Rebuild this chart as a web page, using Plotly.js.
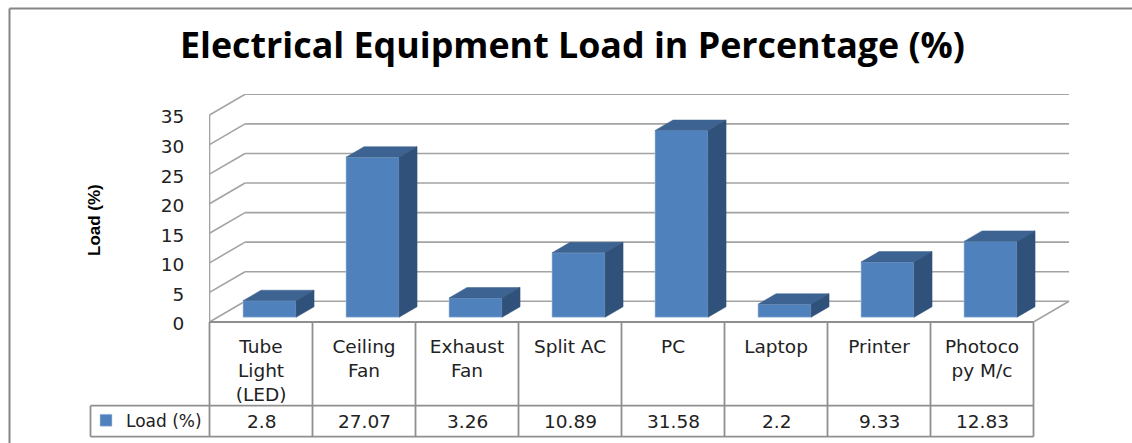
<!DOCTYPE html>
<html>
<head>
<meta charset="utf-8">
<script src="https://cdn.plot.ly/plotly-3.0.1.min.js"></script>
<style>html,body{margin:0;padding:0;background:#fff;overflow:hidden}#chart{width:1132px;height:443px}</style>
</head>
<body>
<div id="chart"></div>
<script>
// Data
const categories = ['Tube<br>Light<br>(LED)', 'Ceiling<br>Fan', 'Exhaust<br>Fan', 'Split AC', 'PC', 'Laptop', 'Printer', 'Photoco<br>py M/c'];
const loads = [2.8, 27.07, 3.26, 10.89, 31.58, 2.2, 9.33, 12.83];
const loadLabels = ['2.8', '27.07', '3.26', '10.89', '31.58', '2.2', '9.33', '12.83'];
const yTicks = [0, 5, 10, 15, 20, 25, 30, 35];
const seriesName = 'Load (%)';
const chartTitle = 'Electrical Equipment Load in Percentage (%)';
const yTitle = 'Load (%)';

// Layout constants
const W = 1132, H = 443;
const L = 209, R = 1070, T = 94, B = 322;
const pxPerCat = 103, pxPerUnit = 5.914;
const xMin = -0.005, xMax = xMin + (R - L) / pxPerCat, yMax = (B - T) / pxPerUnit;
const wallDx = 0.345, wallDy = 3.5;
const barLeft = 0.325, barW = 0.515, barBase = 0.8, barDx = 0.175, barDy = 1.775;
const n = categories.length;
const GRID = '#a3a3a3', TABLE = '#8f8f8f';
const FRONT = '#4f81bd', TOP = '#3c6391', SIDE = '#30517a';
const FONT = '"DejaVu Sans", sans-serif', TXT = '#222222';

const px = p => (p - L) / (R - L);
const py = p => (B - p) / (B - T);
const line = (x0, y0, x1, y1, color, width) => ({type: 'line', xref: 'paper', yref: 'paper',
  x0, y0, x1, y1, line: {color, width}});
const wall = (x0, y0, x1, y1) => ({type: 'line', xref: 'x', yref: 'y', layer: 'below',
  x0, y0, x1, y1, line: {color: GRID, width: 1.6}});

const traces = [];
// bar front faces
traces.push({type: 'bar', name: seriesName, x: loads.map((_, i) => i + barLeft + barW / 2), y: loads,
  base: barBase, width: barW, marker: {color: FRONT, line: {color: '#b9cde6', width: 0.6}}, showlegend: true});
// bar top and side faces
loads.forEach((v, i) => {
  const x0 = i + barLeft, x1 = x0 + barW, b = barBase, t = barBase + v;
  traces.push({type: 'scatter', mode: 'lines', fill: 'toself', fillcolor: TOP, showlegend: false, hoverinfo: 'skip',
    x: [x0, x0 + barDx, x1 + barDx, x1, x0], y: [t, t + barDy, t + barDy, t, t], line: {color: TOP, width: 0.5}});
  traces.push({type: 'scatter', mode: 'lines', fill: 'toself', fillcolor: SIDE, showlegend: false, hoverinfo: 'skip',
    x: [x1, x1 + barDx, x1 + barDx, x1, x1], y: [t, t + barDy, b + barDy, b, t], line: {color: SIDE, width: 0.5}});
});

const shapes = [];
// back wall gridlines in depth, below the bars
yTicks.forEach(v => {
  shapes.push(wall(0, v, wallDx, v + wallDy));
  shapes.push(wall(wallDx, v + wallDy, n + wallDx, v + wallDy));
});
// left wall edge and floor edge
shapes.push(wall(0, yTicks[0], 0, yTicks[yTicks.length - 1]));
shapes.push(wall(n, 0, n + wallDx, wallDy));
shapes.push(
  // outer frame (left and top edges only)
  line(px(9.5), py(8.5), px(W), py(8.5), '#858585', 2),
  line(px(9.5), py(8.5), px(9.5), py(H), '#858585', 2),
  // table
  line(px(209.5), py(322), px(1033.5), py(322), TABLE, 1.8),
  line(px(90.5), py(405.7), px(1033.5), py(405.7), TABLE, 1.8),
  line(px(90.5), py(436.7), px(1033.5), py(436.7), TABLE, 1.8),
  line(px(90.5), py(405.7), px(90.5), py(436.7), TABLE, 1.8)
);
for (let i = 0; i <= n; i++) {
  const xp = 209.5 + i * pxPerCat;
  shapes.push(line(px(xp), py(322), px(xp), py(436.7), TABLE, 1.8));
}

const annotations = loadLabels.map((s, i) => ({
  xref: 'x', yref: 'paper', x: i + 0.5, y: py(421), text: s, showarrow: false,
  xanchor: 'center', yanchor: 'middle', font: {family: FONT, size: 18.5, color: TXT}
}));
annotations.push({xref: 'paper', yref: 'paper', x: px(94), y: py(220), text: yTitle, showarrow: false, textangle: -90,
  xanchor: 'center', yanchor: 'middle', font: {family: '"Liberation Sans", sans-serif', size: 17, color: '#000', weight: 700}});

const layout = {
  width: W, height: H,
  paper_bgcolor: '#fff', plot_bgcolor: 'rgba(0,0,0,0)',
  margin: {l: L, r: W - R, t: T, b: H - B, pad: 0, autoexpand: false},
  title: {text: chartTitle, x: 572.5 / W, xanchor: 'center', xref: 'container', y: 1 - 45 / H, yanchor: 'middle',
    font: {family: '"Open Sans", sans-serif', size: 35.8, color: '#000', weight: 700}},
  xaxis: {range: [xMin, xMax], tickmode: 'array', tickvals: categories.map((_, i) => i + 0.5), ticktext: categories,
    tickangle: 0, ticks: 'outside', ticklen: 8, tickcolor: 'rgba(0,0,0,0)', showgrid: false, zeroline: false, showline: false,
    tickfont: {family: FONT, size: 18.5, color: TXT}, fixedrange: true},
  yaxis: {range: [0, yMax], tickmode: 'array', tickvals: yTicks, ticktext: yTicks.map(String), ticklabelshift: 2,
    ticks: 'outside', ticklen: 20, tickcolor: 'rgba(0,0,0,0)', showgrid: false, zeroline: false, showline: false,
    tickfont: {family: FONT, size: 18.5, color: TXT}, fixedrange: true},
  legend: {x: px(86), xanchor: 'left', y: py(420.7), yanchor: 'middle', bgcolor: 'rgba(0,0,0,0)', borderwidth: 0,
    font: {family: FONT, size: 17, color: TXT}},
  shapes, annotations, showlegend: true, barmode: 'overlay', hovermode: false
};
Plotly.newPlot('chart', traces, layout, {displayModeBar: false, responsive: false, staticPlot: false});
</script>
</body>
</html>
